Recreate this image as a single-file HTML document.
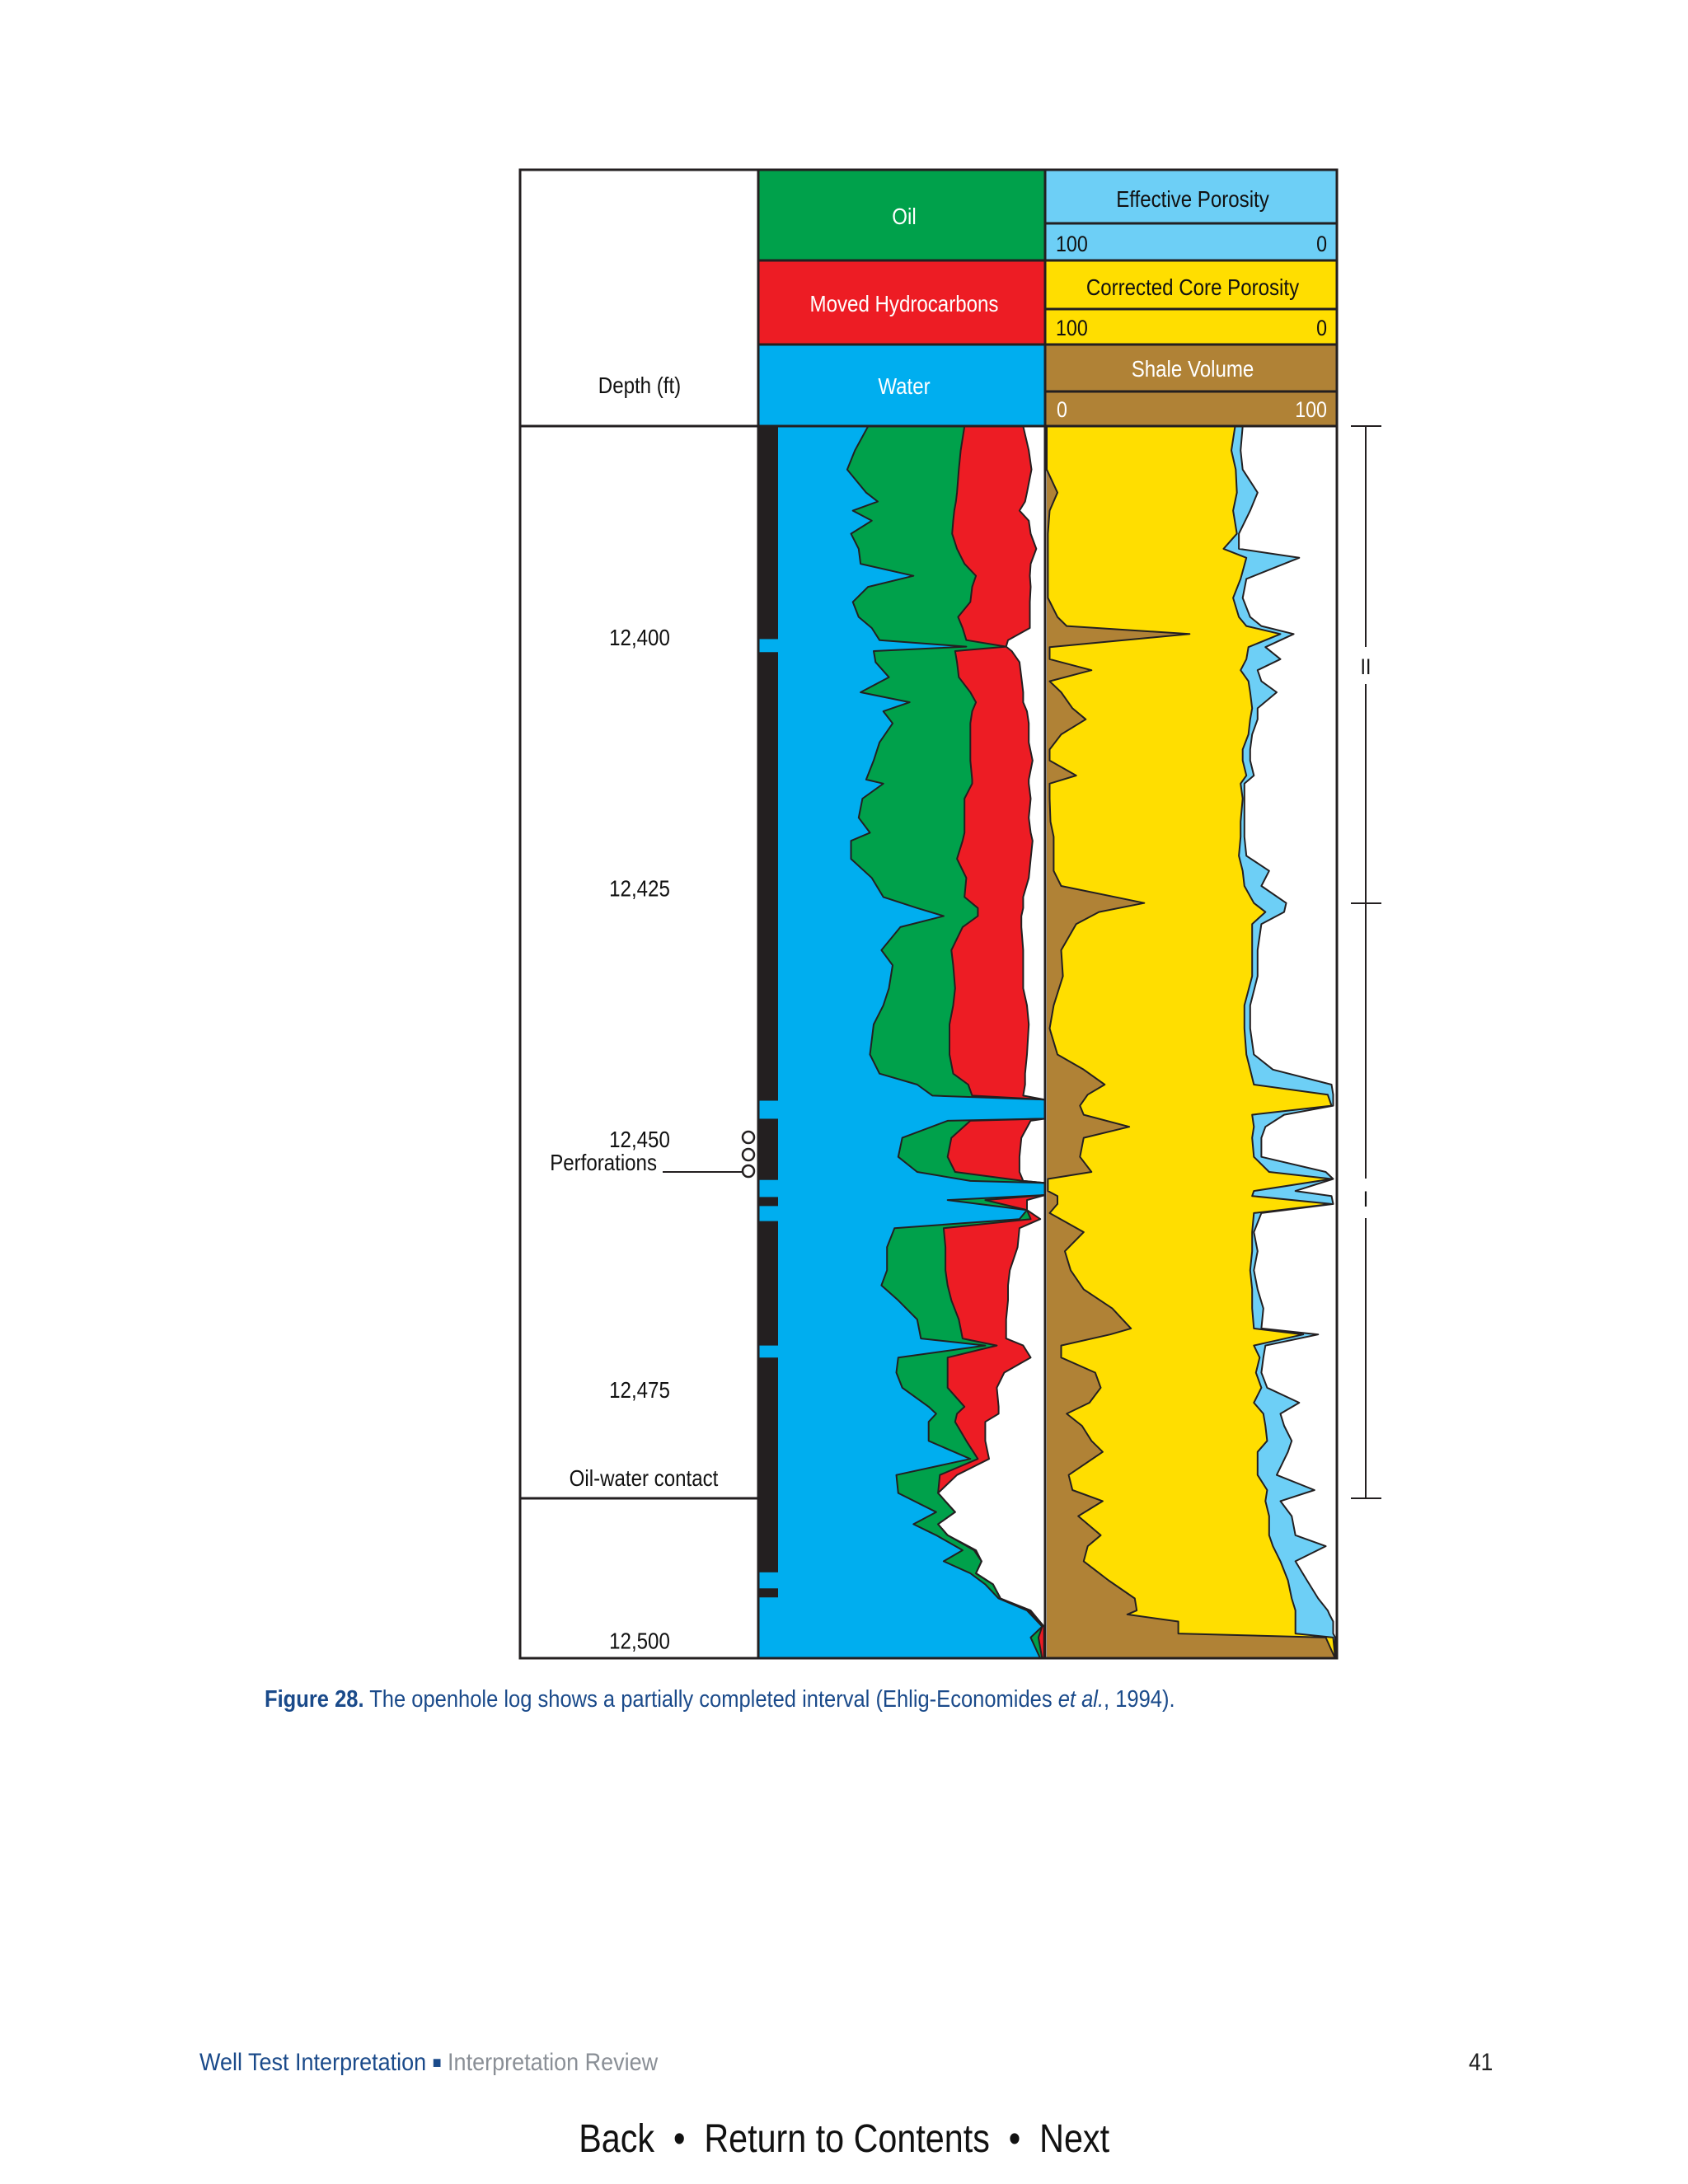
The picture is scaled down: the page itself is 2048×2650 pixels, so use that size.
<!DOCTYPE html>
<html><head><meta charset="utf-8">
<style>
html,body{margin:0;padding:0;background:#fff;}
body{width:2048px;height:2650px;position:relative;overflow:hidden;font-family:"Liberation Sans Narrow","Liberation Sans",sans-serif;}
svg text{font-family:"Liberation Sans Narrow","Liberation Sans",sans-serif;}
.cap{position:absolute;left:321px;top:2046px;font-size:29px;color:#1a4a8a;white-space:nowrap;transform:scaleX(0.88);transform-origin:0 0;}
.foot{position:absolute;left:242px;top:2486px;font-size:30px;color:#1a4a8a;white-space:nowrap;transform:scaleX(0.9);transform-origin:0 0;}
.pg{position:absolute;left:1782px;top:2486px;font-size:30px;color:#222;transform:scaleX(0.88);transform-origin:0 0;}
.nav{position:absolute;left:0;width:2048px;top:2568px;text-align:center;font-size:48px;color:#111;font-family:"Liberation Sans",sans-serif;transform:scaleX(0.86);transform-origin:1025px 0;}
</style></head>
<body>
<svg id="chart" width="2048" height="2040" style="position:absolute;left:0;top:0" xmlns="http://www.w3.org/2000/svg">
 <g id="hdr">
  <rect x="920" y="206" width="348" height="110" fill="#00a14b"/>
  <rect x="920" y="316" width="348" height="102" fill="#ed1c24"/>
  <rect x="920" y="418" width="348" height="99" fill="#00aeef"/>
  <rect x="1268" y="206" width="354" height="110" fill="#6dcff6"/>
  <rect x="1268" y="316" width="354" height="102" fill="#ffde00"/>
  <rect x="1268" y="418" width="354" height="99" fill="#b08236"/>
  <g stroke="#231f20" stroke-width="3">
   <line x1="1268" y1="271" x2="1622" y2="271"/>
   <line x1="920" y1="316" x2="1622" y2="316"/>
   <line x1="1268" y1="375" x2="1622" y2="375"/>
   <line x1="920" y1="418" x2="1622" y2="418"/>
   <line x1="1268" y1="475" x2="1622" y2="475"/>
  </g>
  <text x="1097" y="272" font-size="28" fill="#fff" text-anchor="middle">Oil</text>
  <text x="1097" y="378" font-size="28" fill="#fff" text-anchor="middle">Moved Hydrocarbons</text>
  <text x="1097" y="478" font-size="28" fill="#fff" text-anchor="middle">Water</text>
  <text x="1447" y="251" font-size="28" fill="#111" text-anchor="middle">Effective Porosity</text>
  <text x="1281" y="305" font-size="27" fill="#111">100</text>
  <text x="1610" y="305" font-size="27" fill="#111" text-anchor="end">0</text>
  <text x="1447" y="358" font-size="28" fill="#111" text-anchor="middle">Corrected Core Porosity</text>
  <text x="1281" y="407" font-size="27" fill="#111">100</text>
  <text x="1610" y="407" font-size="27" fill="#111" text-anchor="end">0</text>
  <text x="1447" y="457" font-size="28" fill="#fff" text-anchor="middle">Shale Volume</text>
  <text x="1282" y="506" font-size="27" fill="#fff">0</text>
  <text x="1610" y="506" font-size="27" fill="#fff" text-anchor="end">100</text>
  <text x="776" y="477" font-size="28" fill="#111" text-anchor="middle">Depth (ft)</text>
 </g>
 <g id="mid"></g>
 <g id="right"></g>
 <g id="strip"></g>
 <g id="depth"></g>
 <g fill="none" stroke="#231f20" stroke-width="3">
  <rect x="631" y="206" width="991" height="1806"/>
  <line x1="920" y1="206" x2="920" y2="2012"/>
  <line x1="1268" y1="206" x2="1268" y2="2012"/>
  <line x1="631" y1="517" x2="1622" y2="517"/>
  <line x1="631" y1="1818" x2="920" y2="1818"/>
 </g>
 <g>
  <text x="797" y="1420" font-size="28" fill="#111" text-anchor="end">Perforations</text>
  <line x1="804" y1="1422" x2="902" y2="1422" stroke="#231f20" stroke-width="2"/>
  <circle cx="908" cy="1380" r="7" fill="#fff" stroke="#231f20" stroke-width="2.5"/>
  <circle cx="908" cy="1401" r="7" fill="#fff" stroke="#231f20" stroke-width="2.5"/>
  <circle cx="908" cy="1421" r="7" fill="#fff" stroke="#231f20" stroke-width="2.5"/>
 </g>
 <text x="781" y="1803" font-size="28" fill="#111" text-anchor="middle">Oil-water contact</text>
 <g stroke="#231f20" stroke-width="2">
  <line x1="1639" y1="517" x2="1676" y2="517"/>
  <line x1="1639" y1="1096" x2="1676" y2="1096"/>
  <line x1="1639" y1="1818" x2="1676" y2="1818"/>
  <line x1="1657" y1="517" x2="1657" y2="785"/>
  <line x1="1657" y1="830" x2="1657" y2="1430"/>
  <line x1="1657" y1="1478" x2="1657" y2="1818"/>
 </g>
 <text x="1657" y="818" font-size="27" fill="#111" text-anchor="middle">II</text>
 <text x="1657" y="1464" font-size="27" fill="#111" text-anchor="middle">I</text>
</svg>

<div class="cap"><b>Figure 28.</b> The openhole log shows a partially completed interval (Ehlig-Economides <i>et al.</i>, 1994).</div>
<div class="foot">Well Test Interpretation <span style="font-size:20px;position:relative;top:-3px">■</span> <span style="color:#8a8f96">Interpretation Review</span></div>
<div class="pg">41</div>
<div class="nav"><span>Back</span> &nbsp;•&nbsp; <span>Return to Contents</span> &nbsp;•&nbsp; <span>Next</span></div>

<script>
// ---- data (depth in ft, values in % of track width) ----
const depthTicks = [12400, 12425, 12450, 12475, 12500];
const tickLabels = ["12,400", "12,425", "12,450", "12,475", "12,500"];
const satDepth = [12379.0,12381.4,12383.3,12385.6,12386.5,12387.4,12388.4,12389.7,12391.2,12392.7,12393.9,12395.0,12396.5,12398.0,12399.1,12400.3,12400.95,12401.4,12402.5,12404.0,12405.5,12406.5,12407.4,12408.6,12410.5,12412.3,12414.2,12414.6,12416.1,12418.0,12419.5,12420.3,12422.1,12424.0,12425.9,12427.0,12427.8,12428.9,12431.2,12432.7,12435.0,
 12436.7,12438.6,12441.6,12443.5,12444.6,12445.7,12446.1,12448.0,12448.2,12449.9,12451.8,12453.3,12454.2,12454.4,12455.6,12456.1,12457.1,12458.0,12458.9,12460.8,12463.1,12464.6,12466.1,12468.0,12469.9,12470.6,12471.8,12473.3,12474.8,12476.7,12477.4,12478.2,12480.1,12481.9,12483.5,12485.3,12487.2,12488.4,12489.5,12491.0,12492.1,12493.3,12494.4,12495.8,12497.0,12498.6,12499.7,12501.8];
const waterEdge = [33.7,28.8,25.9,33.0,37.3,28.0,35.1,27.3,30.2,30.9,50.7,33.7,28.0,30.2,35.1,38.0,70.5,35.8,36.5,41.5,30.9,49.3,39.4,42.9,38.0,35.8,33.0,39.4,31.6,30.2,34.4,27.3,27.3,35.1,39.4,52.1,62.0,45.8,38.7,42.9,41.5,
 39.4,35.8,34.4,38.0,52.1,57.8,100,100,63.5,46.5,45.0,52.1,72.0,100,100,63.5,93.2,90.4,43.6,40.8,40.8,38.7,45.0,52.1,53.5,77.6,45.0,44.3,46.5,56.4,59.2,56.4,56.4,72.0,44.3,45.0,59.2,50.7,59.2,69.1,62.0,72.0,77.6,82.6,93.2,98.9,94.6,98.2];
const oilEdge = [69.8,68.4,67.7,67.0,66.6,66.0,65.6,65.2,67.0,69.8,74.1,72.7,72.0,67.4,69.1,70.5,85.4,66.3,67.0,67.7,72.0,74.1,72.7,72.0,72.0,72.0,72.7,72.7,69.8,69.8,69.8,69.1,67.0,70.5,69.8,74.8,74.8,69.1,64.9,65.6,66.3,
 65.6,64.2,64.2,65.6,71.2,72.7,100,100,72.0,64.9,63.5,66.3,91.8,100,100,77.6,93.2,94.6,62.0,62.7,62.7,63.5,64.9,67.7,69.1,81.9,63.5,63.5,63.5,69.8,67.0,66.3,70.5,74.8,60.6,59.9,66.3,59.9,63.5,73.4,76.2,74.1,80.5,83.3,93.9,98.9,97.5,98.9];
const movedEdge = [91.8,93.9,94.9,93.2,92.5,90.4,93.9,94.6,96.7,94.6,94.3,94.6,94.3,94.3,94.3,86.1,85.4,87.5,90.4,91.1,91.8,91.8,93.2,93.9,93.9,95.3,93.9,93.9,94.6,93.9,94.6,95.3,94.6,93.9,91.8,91.8,91.1,91.1,91.8,91.8,91.8,
 93.2,93.9,93.2,92.5,92.5,91.8,100,100,94.6,91.1,90.4,90.4,91.8,100,100,93.2,93.2,98.2,90.4,89.7,86.8,86.1,86.1,85.4,85.4,91.8,94.6,84.7,81.9,82.6,82.6,77.6,77.6,79.0,67.0,59.9,66.3,59.9,63.5,74.1,76.2,74.1,80.5,83.3,94.6,99.6,99.6,99.6];

const porDepth = [12379.0,12381.4,12383.3,12385.6,12387.4,12389.7,12391.2,12392.1,12394.2,12396.1,12398.0,12398.9,12399.7,12401.0,12402.2,12403.3,12404.4,12405.5,12407.1,12408.2,12409.7,12411.2,12412.3,12413.8,12414.6,12416.1,12418.4,12419.9,12421.8,12423.3,12424.8,12426.5,12427.4,12428.6,12431.2,12433.8,12436.7,
 12439.0,12441.6,12443.1,12444.6,12445.6,12446.7,12447.6,12448.8,12449.9,12451.8,12453.3,12454.0,12455.2,12455.7,12456.5,12457.4,12459.3,12461.2,12463.1,12465.0,12466.9,12468.9,12469.5,12470.6,12471.8,12473.3,12474.8,12476.3,12477.4,12478.6,12480.1,12481.2,12483.5,12485.0,12486.1,12487.6,12489.5,12490.6,12492.1,12494.0,12495.8,12497.0,12497.4,12498.1,12499.3,12499.7,12501.8];
const shale = [0,0,0,3.7,1.0,0.4,0.4,0.4,0.4,0.4,3.7,6.9,49.5,1.0,1.0,15.5,1.0,5.0,8.9,13.5,5.0,1.0,1.0,10.2,1.0,1.0,1.3,2.4,2.4,2.4,5.0,33.8,18.1,10.2,5.0,5.6,2.4,
 1.0,3.7,12.8,20.1,14.2,11.5,12.8,28.6,12.8,11.5,15.5,0.4,0.4,3.7,3.7,1.0,12.8,6.3,8.3,12.8,22.7,29.2,22.0,5.0,5.0,16.8,18.7,14.8,6.9,12.2,15.5,19.4,7.6,8.9,19.4,10.9,18.7,14.2,12.8,21.4,30.5,31.2,27.9,45.6,45.6,96.7,100];
const corePor = [65.3,64.0,65.5,65.9,64.6,65.9,61.3,69.2,67.2,64.6,66.6,69.2,81.0,69.9,69.2,67.2,69.9,70.5,71.2,70.5,69.9,67.9,67.9,69.2,67.2,67.9,67.2,67.2,66.6,67.9,68.5,71.8,75.8,71.2,71.2,71.2,68.5,
 68.5,69.2,70.5,71.8,97.4,98.7,71.2,71.8,71.2,71.8,77.1,98.7,71.8,71.2,98.7,71.8,71.2,71.2,70.5,71.2,71.2,71.8,88.9,71.8,73.8,72.5,74.4,71.8,75.1,75.8,76.4,73.1,73.1,76.4,75.8,77.1,77.1,78.4,81.0,83.6,84.9,86.2,86.2,86.2,86.2,99.3,100];
const effPor = [67.9,67.2,67.9,73.1,70.5,66.6,66.6,87.5,69.2,67.9,70.5,74.4,85.6,75.8,81.0,73.1,74.4,79.7,73.1,73.1,71.2,70.5,70.5,71.8,68.5,68.5,68.5,68.5,69.2,77.1,74.4,83.0,82.3,74.4,73.1,73.1,70.5,
 70.5,71.8,78.4,98.7,99.3,99.3,82.3,75.8,74.4,74.4,96.7,99.3,86.2,98.7,99.3,74.4,71.8,73.1,71.8,73.1,75.1,74.4,94.1,75.8,75.1,74.4,76.4,87.5,81.0,82.3,84.9,83.6,79.7,92.8,81.0,84.9,86.2,96.7,86.2,90.2,94.1,97.4,98.0,99.3,99.3,100,100];

const blackIntervals = [[12379.0,12400.2],[12401.5,12446.2],[12448.0,12454.1],[12455.8,12456.7],[12458.2,12470.6],[12471.8,12493.2],[12494.8,12495.7]];

// ---- axes ----
const D0 = 12379.0, D1 = 12501.8;
function yOf(d){ return 773 + (d - 12400) * 12.176; }
function xMid(p){ return 944 + p / 100 * 324; }
function xRight(p){ return 1270 + p / 100 * 350; }
const NS = "http://www.w3.org/2000/svg";
function mk(tag, attrs, parent){
  const el = document.createElementNS(NS, tag);
  for (const k in attrs) el.setAttribute(k, attrs[k]);
  parent.appendChild(el);
  return el;
}
function areaPath(depths, vals, xf, x0){
  let d = "M" + x0 + "," + yOf(D0).toFixed(1);
  for (let i = 0; i < depths.length; i++){
    d += " L" + xf(vals[i]).toFixed(1) + "," + yOf(Math.min(D1, Math.max(D0, depths[i]))).toFixed(1);
  }
  d += " L" + x0 + "," + yOf(D1).toFixed(1) + " Z";
  return d;
}
function linePath(depths, vals, xf){
  let d = "";
  for (let i = 0; i < depths.length; i++){
    d += (i ? " L" : "M") + xf(vals[i]).toFixed(1) + "," + yOf(Math.min(D1, Math.max(D0, depths[i]))).toFixed(1);
  }
  return d;
}

// middle track
const mid = document.getElementById("mid");
const mbg = mk("rect", {x:920, y:yOf(D0), width:348, height:yOf(D1)-yOf(D0), fill:"#fff"}, mid);


const redA = mk("path", {d:areaPath(satDepth, movedEdge, xMid, 920), fill:"#ed1c24"}, mid);


const greenA = mk("path", {d:areaPath(satDepth, oilEdge, xMid, 920), fill:"#00a14b"}, mid);


const blueA = mk("path", {d:areaPath(satDepth, waterEdge, xMid, 920), fill:"#00aeef"}, mid);


[movedEdge, oilEdge, waterEdge].forEach(function(v){
  const ln = mk("path", {d:linePath(satDepth, v, xMid), fill:"none", stroke:"#231f20", "stroke-width":2, "stroke-linejoin":"round"}, mid);
  
  
});

// right track
const right = document.getElementById("right");
const rbg = mk("rect", {x:1268, y:yOf(D0), width:354, height:yOf(D1)-yOf(D0), fill:"#fff"}, right);


const effA = mk("path", {d:areaPath(porDepth, effPor, xRight, 1270), fill:"#6dcff6"}, right);


const coreA = mk("path", {d:areaPath(porDepth, corePor, xRight, 1270), fill:"#ffde00"}, right);


const shA = mk("path", {d:areaPath(porDepth, shale, xRight, 1270), fill:"#b08236"}, right);


[effPor, corePor, shale].forEach(function(v){
  const ln = mk("path", {d:linePath(porDepth, v, xRight), fill:"none", stroke:"#231f20", "stroke-width":2, "stroke-linejoin":"round"}, right);
  
  
});

// completion strip
const strip = document.getElementById("strip");
blackIntervals.forEach(function(iv){
  const r = mk("rect", {x:921, y:yOf(iv[0]), width:23, height:yOf(iv[1])-yOf(iv[0]), fill:"#231f20"}, strip);
  
  
});

// depth labels
const dep = document.getElementById("depth");
depthTicks.forEach(function(d, i){
  const t = mk("text", {x:776, y:(yOf(d)+10).toFixed(1), "font-size":28, fill:"#111", "text-anchor":"middle"}, dep);
  t.textContent = tickLabels[i];
  
  
});

// condense text to mimic narrow typeface
document.querySelectorAll("#chart text").forEach(function(t){
  const len = t.getComputedTextLength();
  if (len > 0){
    t.setAttribute("textLength", (len * 0.86).toFixed(1));
    t.setAttribute("lengthAdjust", "spacingAndGlyphs");
  }
});
</script>
</body></html>
